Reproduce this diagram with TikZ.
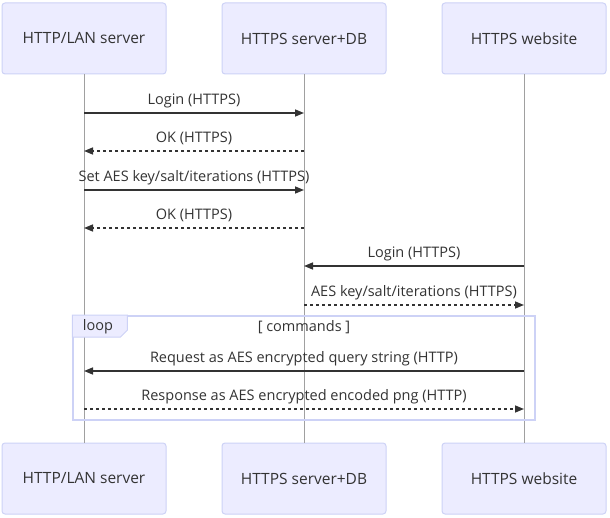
\documentclass[tikz,border=0pt]{standalone}
\usepackage{fontspec}
\setmainfont{Open Sans}
\usetikzlibrary{arrows.meta,positioning}
\definecolor{actorfill}{HTML}{ECECFF}
\definecolor{actorline}{HTML}{CDD2F6}
\definecolor{signal}{HTML}{333333}
\definecolor{lifeline}{HTML}{A0A0A0}
\begin{document}
\begin{tikzpicture}[x=1pt,y=-1pt,
    actor/.style={draw=actorline, fill=actorfill, line width=1pt, rounded corners=3pt,
        minimum width=164pt, minimum height=71pt, inner sep=0pt,
        font=\fontsize{15.5}{18}\selectfont, text=signal},
    life/.style={draw=lifeline, line width=1pt},
    msg/.style={draw=signal, line width=1.5pt, -{Triangle[length=9pt,width=7pt]}},
    reply/.style={msg, dash pattern=on 3pt off 3pt},
    lbl/.style={font=\fontsize{14.5}{17}\selectfont, text=signal, inner sep=0pt},
    loopline/.style={draw=actorline, line width=1.5pt}]
    \useasboundingbox (0,0) rectangle (610,518);
    % Participants, top and bottom
    \node[actor] (lanT) at (84,38.5) {HTTP/LAN server};
    \node[actor] (dbT) at (304,38.5) {HTTPS server+DB};
    \node[actor] (webT) at (524,38.5) {HTTPS website};
    \node[actor] (lanB) at (84,478.5) {HTTP/LAN server};
    \node[actor] (dbB) at (304,478.5) {HTTPS server+DB};
    \node[actor] (webB) at (524,478.5) {HTTPS website};
    % Lifelines
    \foreach \p in {lan,db,web} {
        \draw[life] (\p T.south) -- (\p B.north);
    }
    % Message ends on the lifelines
    \foreach \n/\y in {1/113,2/151,3/190,4/228,5/266,6/305,7/371,8/409} {
        \coordinate (lan\n) at (lanT.south |- 0,\y);
        \coordinate (db\n) at (dbT.south |- 0,\y);
        \coordinate (web\n) at (webT.south |- 0,\y);
    }
    % Loop frame
    \node[loopline, minimum width=462pt, minimum height=104pt, inner sep=0pt] (loop) at (304,368) {};
    \draw[loopline, fill=actorfill, line width=1pt] (loop.north west) -- ++(55,0) -- ++(0,15)
        -- ++(-7,7) -- ++(-48,0) -- cycle;
    \node[lbl] (looptag) at (98,327) {loop};
    \node[lbl] (loopcond) at (loop.north |- 0,327) {[ commands ]};
    % Messages
    \draw[msg] (lan1) -- (db1) node[lbl, midway, yshift=12.5pt] {Login (HTTPS)};
    \draw[reply] (db2) -- (lan2) node[lbl, midway, yshift=12.5pt] {OK (HTTPS)};
    \draw[msg] (lan3) -- (db3) node[lbl, midway, yshift=12.5pt] {Set AES key/salt/iterations (HTTPS)};
    \draw[reply] (db4) -- (lan4) node[lbl, midway, yshift=12.5pt] {OK (HTTPS)};
    \draw[msg] (web5) -- (db5) node[lbl, midway, yshift=12.5pt] {Login (HTTPS)};
    \draw[reply] (db6) -- (web6) node[lbl, midway, yshift=12.5pt] {AES key/salt/iterations (HTTPS)};
    \draw[msg] (web7) -- (lan7) node[lbl, midway, yshift=12.5pt] {Request as AES encrypted query string (HTTP)};
    \draw[reply] (lan8) -- (web8) node[lbl, midway, yshift=12.5pt] {Response as AES encrypted encoded png (HTTP)};
\end{tikzpicture}
\end{document}
